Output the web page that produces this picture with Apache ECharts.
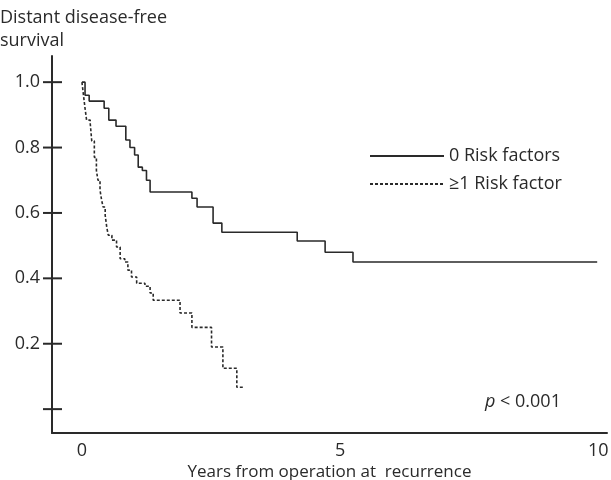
<!DOCTYPE html>
<html>
<head>
<meta charset="utf-8">
<script src="https://cdn.jsdelivr.net/npm/echarts@6/dist/echarts.min.js"></script>
<style>
  html, body { margin: 0; padding: 0; background: #fff; }
  #chart { width: 611px; height: 480px; }
</style>
</head>
<body>
<div id="chart"></div>
<script>
// Kaplan-Meier: distant disease-free survival by risk factors
var seriesNames = ['0 Risk factors', '\u22651 Risk factor'];

// [years, survival] — value drops to survival at that time
var noRisk = [
  [0, 1.0], [0.06, 0.96], [0.14, 0.942], [0.43, 0.92], [0.52, 0.884],
  [0.66, 0.865], [0.85, 0.823], [0.93, 0.80], [1.02, 0.777], [1.09, 0.74],
  [1.17, 0.73], [1.25, 0.70], [1.32, 0.664], [2.13, 0.645], [2.23, 0.618],
  [2.54, 0.569], [2.71, 0.541], [4.17, 0.514], [4.71, 0.48], [5.25, 0.45],
  [9.98, 0.45]
];
var anyRisk = [
  [0, 1.0], [0.03, 0.96], [0.06, 0.92], [0.09, 0.884], [0.16, 0.875],
  [0.19, 0.82], [0.24, 0.77], [0.28, 0.73], [0.31, 0.70], [0.35, 0.67],
  [0.38, 0.64], [0.41, 0.618], [0.45, 0.593], [0.48, 0.557], [0.51, 0.532],
  [0.58, 0.517], [0.67, 0.496], [0.74, 0.46], [0.83, 0.45], [0.89, 0.425],
  [0.96, 0.404], [1.06, 0.385], [1.22, 0.376], [1.32, 0.355], [1.38, 0.333],
  [1.90, 0.294], [2.13, 0.25], [2.51, 0.19], [2.73, 0.125], [3.00, 0.067],
  [3.12, 0.067]
];

var xTicks = [0, 5, 10];
var yTicks = [0, 0.2, 0.4, 0.6, 0.8, 1.0];
var yLabels = [0.2, 0.4, 0.6, 0.8, 1.0];

var xMin = -0.58, xMax = 10.17;
var yMin = -0.073, yMax = 1.08;

var ink = '#2a2a2a';
var font = '"Open Sans", "Noto Sans", sans-serif';

var chart = echarts.init(document.getElementById('chart'), null, { renderer: 'canvas' });
chart.setOption({
  animation: false,
  backgroundColor: '#fff',
  textStyle: { fontFamily: font, color: ink },
  title: {
    text: 'Distant disease-free\nsurvival',
    left: 0,
    top: 6,
    padding: 0,
    textStyle: { fontFamily: font, fontSize: 18, fontWeight: 'normal', color: ink, lineHeight: 23 }
  },
  grid: { left: 52, right: 4, top: 56, bottom: 47, outerBoundsMode: 'none', containLabel: false },
  legend: {
    data: seriesNames,
    orient: 'vertical',
    left: 369,
    top: 147,
    padding: 0,
    itemWidth: 74,
    itemHeight: 14,
    itemGap: 10,
    itemStyle: { opacity: 0 },
    textStyle: { fontFamily: font, fontSize: 18, color: ink }
  },
  xAxis: {
    type: 'value',
    min: xMin,
    max: xMax,
    name: 'Years from operation at  recurrence',
    nameLocation: 'middle',
    nameGap: 31,
    nameMoveOverlap: false,
    nameTextStyle: { fontFamily: font, fontSize: 17, color: ink },
    axisLine: { onZero: false, lineStyle: { color: ink, width: 2 } },
    axisTick: { show: false },
    splitLine: { show: false },
    axisLabel: {
      customValues: xTicks,
      margin: 9,
      fontSize: 18,
      color: ink,
      fontFamily: font
    }
  },
  yAxis: {
    type: 'value',
    min: yMin,
    max: yMax,
    axisLine: { show: true, onZero: false, lineStyle: { color: ink, width: 2 } },
    axisTick: { show: false },
    splitLine: { show: false },
    axisLabel: {
      customValues: yLabels,
      margin: 12,
      fontSize: 18,
      color: ink,
      fontFamily: font,
      formatter: function (v) { return v.toFixed(1); }
    }
  },
  graphic: [{
    type: 'text',
    left: 485,
    top: 393,
    style: {
      text: '{i|p} < 0.001',
      fill: ink,
      font: '18px ' + font,
      rich: { i: { fontStyle: 'italic', fontSize: 18, fontFamily: font, fill: ink } }
    }
  }],
  series: [{
    name: seriesNames[0],
    type: 'line',
    step: 'end',
    symbol: 'none',
    data: noRisk,
    lineStyle: { color: ink, width: 1.6 },
    itemStyle: { color: ink }
  }, {
    name: seriesNames[1],
    type: 'line',
    step: 'end',
    symbol: 'none',
    data: anyRisk,
    lineStyle: { color: ink, width: 1.6, type: [3, 2] },
    itemStyle: { color: ink }
  }, {
    // cross-shaped y-axis ticks, straddling the axis line
    type: 'custom',
    clip: false,
    silent: true,
    z: 5,
    data: yTicks.map(function (v) { return [xMin, v]; }),
    encode: { x: 0, y: 1 },
    renderItem: function (params, api) {
      var p = api.coord([api.value(0), api.value(1)]);
      return {
        type: 'line',
        shape: { x1: p[0] - 9, y1: p[1], x2: p[0] + 10, y2: p[1] },
        style: { stroke: ink, lineWidth: 2 }
      };
    }
  }]
});
</script>
</body>
</html>
